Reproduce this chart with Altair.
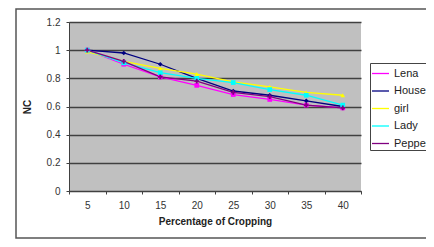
import altair as alt
import pandas as pd

cropping = [5, 10, 15, 20, 25, 30, 35, 40]
lena = [1.00, 0.90, 0.81, 0.75, 0.685, 0.65, 0.61, 0.59]
house = [1.00, 0.98, 0.90, 0.80, 0.71, 0.68, 0.64, 0.60]
girl = [0.99, 0.92, 0.87, 0.83, 0.775, 0.74, 0.70, 0.68]
lady = [1.00, 0.91, 0.84, 0.80, 0.77, 0.72, 0.68, 0.61]
pepper = [1.00, 0.92, 0.81, 0.78, 0.70, 0.67, 0.61, 0.59]

series_names = ["Lena", "House", "girl", "Lady", "Pepper"]
series_vals = [lena, house, girl, lady, pepper]
colors = ["#FF00FF", "#000080", "#FFFF00", "#00FFFF", "#800080"]
shapes = ["square", "diamond", "triangle-up", "square", "cross"]

rows = []
for name, vals in zip(series_names, series_vals):
    for c, v in zip(cropping, vals):
        rows.append({"crop": c, "nc": v, "series": name})
df = pd.DataFrame(rows)

FONT = "Liberation Sans"

x_enc = alt.X("crop:O", title="Percentage of Cropping",
              scale=alt.Scale(type="band", paddingInner=0, paddingOuter=0),
              axis=alt.Axis(labelAngle=0, tickBand="extent", grid=False,
                            domainColor="#404040", tickColor="#404040", tickSize=3,
                            labelFont=FONT, labelFontSize=10, labelColor="#333333",
                            labelPadding=6,
                            titleFont=FONT, titleFontSize=10, titleFontWeight="bold",
                            titleColor="#222222", titlePadding=6))
y_enc = alt.Y("nc:Q", title="NC",
              scale=alt.Scale(domain=[0, 1.2], nice=False),
              axis=alt.Axis(values=[0, 0.2, 0.4, 0.6, 0.8, 1.0, 1.2], format=".1~f",
                            grid=True, gridColor="#404040", gridWidth=1.5,
                            domainColor="#404040", tickColor="#404040", tickSize=3,
                            labelFont=FONT, labelFontSize=10, labelColor="#333333",
                            labelPadding=6,
                            titleFont=FONT, titleFontSize=10, titleFontWeight="bold",
                            titleColor="#222222", titlePadding=14))
color_scale = alt.Scale(domain=series_names, range=colors)

frame = alt.Chart(pd.DataFrame({"a": [0]})).mark_rect(
    fill="white", fillOpacity=0, stroke="#555555", strokeWidth=1.5, clip=False
).encode(x=alt.value(-53), x2=alt.value(363), y=alt.value(-13), y2=alt.value(216))

lines = alt.Chart(df).mark_line(strokeWidth=1.3).encode(
    x=x_enc, y=y_enc,
    color=alt.Color("series:N", scale=color_scale, sort=series_names,
                    legend=alt.Legend(title=None, orient="none", legendX=301, legendY=41,
                                      symbolType="stroke", symbolSize=289,
                                      symbolStrokeWidth=1.3,
                                      labelFont=FONT, labelFontSize=11, labelColor="#222222",
                                      strokeColor="#444444", fillColor="white",
                                      padding=1, rowPadding=2.5, labelOffset=4)),
)

point_layers = []
for name, col, shp in zip(series_names, colors, shapes):
    point_layers.append(
        alt.Chart(df).transform_filter(alt.datum.series == name)
        .mark_point(filled=True, size=22, opacity=1, shape=shp, color=col)
        .encode(x=x_enc, y=y_enc)
    )

chart = alt.layer(frame, lines, *point_layers).properties(
    width=292, height=169,
    autosize=alt.AutoSizeParams(type="none"),
    padding={"left": 61, "top": 14, "right": 65, "bottom": 48},
    background="white",
).configure_view(fill="#C0C0C0", stroke=None)

chart.save("out.html", embed_options={"renderer": "svg", "actions": False})
